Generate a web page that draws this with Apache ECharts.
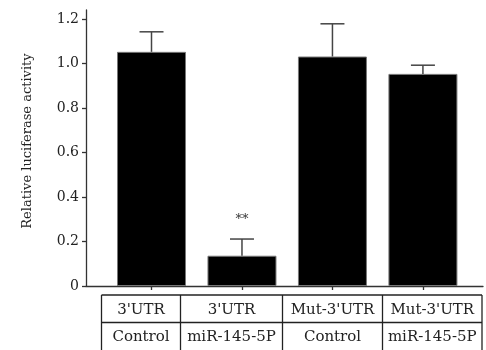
<!DOCTYPE html>
<html>
<head>
<meta charset="utf-8">
<script src="https://cdn.jsdelivr.net/npm/echarts@6/dist/echarts.min.js"></script>
<style>html,body{margin:0;padding:0;background:#fff}#c{width:486px;height:350px}</style>
</head>
<body>
<div id="c"></div>
<script>
const tableRow1 = ["3'UTR", "3'UTR", "Mut-3'UTR", "Mut-3'UTR"];
const tableRow2 = ["Control", "miR-145-5P", "Control", "miR-145-5P"];
const means = [1.052, 0.136, 1.031, 0.953];
const errors = [0.090, 0.075, 0.147, 0.039];
const significance = ["", "**", "", ""];
const yTicks = [0, 0.2, 0.4, 0.6, 0.8, 1.0, 1.2];
const yTitle = "Relative luciferase activity";

const FONT = "DejaVu Serif";
const chart = echarts.init(document.getElementById('c'), null, {renderer: 'canvas'});

// table layout (drawn as graphics)
const colEdges = [101.5, 180.5, 282.5, 382.5, 482];
const rowTop = 295, rowMid = 322.5, rowBottom = 352;
const graphics = [];
const lineStyle = {stroke: '#222', lineWidth: 1.3};
graphics.push({type: 'line', shape: {x1: colEdges[0], y1: rowTop, x2: colEdges[4], y2: rowTop}, style: lineStyle});
graphics.push({type: 'line', shape: {x1: colEdges[0], y1: rowMid, x2: colEdges[4], y2: rowMid}, style: lineStyle});
colEdges.forEach(x => graphics.push({type: 'line', shape: {x1: x, y1: rowTop, x2: x, y2: rowBottom}, style: lineStyle}));
for (let i = 0; i < 4; i++) {
  const cx = (colEdges[i] + colEdges[i + 1]) / 2;
  graphics.push({type: 'text', x: cx, y: (rowTop + rowMid) / 2 + 1, style: {text: tableRow1[i], font: '15px "' + FONT + '"', fill: '#222', align: 'center', verticalAlign: 'middle'}});
  graphics.push({type: 'text', x: cx, y: (rowMid + rowBottom) / 2, style: {text: tableRow2[i], font: '15px "' + FONT + '"', fill: '#222', align: 'center', verticalAlign: 'middle'}});
}

chart.setOption({
  animation: false,
  backgroundColor: '#fff',
  grid: {left: 86, right: 3, top: 10, bottom: 64},
  xAxis: {
    type: 'value', min: -0.724, max: 3.664,
    axisLine: {show: true, onZero: false, lineStyle: {color: '#333', width: 1.3}},
    axisTick: {show: true, customValues: [0, 1, 2, 3], length: 4, lineStyle: {color: '#333', width: 1.3}},
    axisLabel: {show: false},
    splitLine: {show: false}
  },
  yAxis: {
    type: 'value', min: 0, max: 1.24,
    name: yTitle, nameLocation: 'middle', nameGap: 52,
    nameTextStyle: {fontFamily: FONT, fontSize: 13, color: '#222', padding: [0, 0, 0, 14]},
    axisLine: {show: true, onZero: false, lineStyle: {color: '#333', width: 1.3}},
    axisTick: {show: true, customValues: yTicks, length: 4, lineStyle: {color: '#333', width: 1.3}},
    axisLabel: {customValues: yTicks, margin: 7, fontFamily: FONT, fontSize: 14, color: '#222',
      formatter: v => v === 0 ? '0' : v.toFixed(1)},
    splitLine: {show: false}
  },
  series: [
    {
      type: 'bar', barWidth: 69,
      data: means.map((v, i) => [i, v]),
      itemStyle: {color: '#000', borderColor: '#777', borderWidth: 1}
    },
    {
      type: 'custom',
      data: means.map((v, i) => [i, v, errors[i]]),
      renderItem: (params, api) => {
        const i = api.value(0), m = api.value(1), e = api.value(2);
        const base = api.coord([i, m]);
        const top = api.coord([i, m + e]);
        const children = [
          {type: 'line', shape: {x1: base[0], y1: base[1], x2: top[0], y2: top[1]}, style: {stroke: '#444', lineWidth: 1.5}},
          {type: 'line', shape: {x1: top[0] - 12, y1: top[1], x2: top[0] + 12, y2: top[1]}, style: {stroke: '#444', lineWidth: 1.5}}
        ];
        if (significance[i]) {
          children.push({type: 'text', x: top[0], y: top[1] - 19, style: {text: significance[i], font: '13px "' + FONT + '"', fill: '#333', align: 'center', verticalAlign: 'middle'}});
        }
        return {type: 'group', children};
      },
      z: 3
    }
  ],
  graphic: graphics
});
</script>
</body>
</html>
